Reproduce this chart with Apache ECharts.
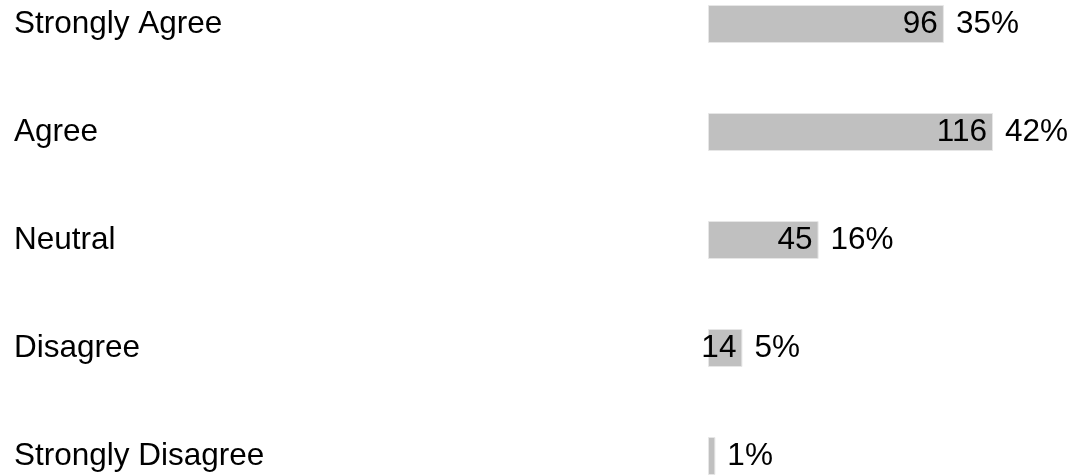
<!DOCTYPE html>
<html>
<head>
<meta charset="utf-8">
<script src="https://cdn.jsdelivr.net/npm/echarts@6/dist/echarts.min.js"></script>
<style>
html,body{margin:0;padding:0;background:#fff;overflow:hidden;width:1073px;height:476px;position:relative;}
#c{position:absolute;left:0;top:-30px;width:1073px;height:540px;}
</style>
</head>
<body>
<div id="c"></div>
<script>
const categories = ['Strongly Agree', 'Agree', 'Neutral', 'Disagree', 'Strongly Disagree'];
const counts = [96, 116, 45, 14, 3];
const total = counts.reduce((a, b) => a + b, 0);
const percents = counts.map(v => Math.round(v / total * 100));

const FONT = '"Liberation Sans", Arial, sans-serif';
const chart = echarts.init(document.getElementById('c'));
chart.setOption({
  animation: false,
  backgroundColor: '#ffffff',
  grid: { left: 708, right: 21, top: 0, bottom: 0, containLabel: false },
  xAxis: { type: 'value', min: 0, max: 140, show: false },
  yAxis: {
    type: 'category', data: categories, inverse: true,
    axisLine: { show: false }, axisTick: { show: false }, splitLine: { show: false },
    axisLabel: { align: 'left', margin: 694, color: '#000', fontSize: 31.5, fontFamily: FONT }
  },
  series: [
    {
      type: 'bar', data: counts, barWidth: 38,
      itemStyle: { color: '#c0c0c0', borderColor: '#e6e6e6', borderWidth: 1 },
      label: {
        show: true, position: 'insideRight', distance: 6,
        color: '#000', fontSize: 31.5, fontFamily: FONT,
        formatter: p => (p.value >= 10 ? String(p.value) : '')
      },
      z: 2
    },
    {
      type: 'bar', data: counts, barWidth: 38, barGap: '-100%',
      itemStyle: { color: 'rgba(0,0,0,0)' },
      label: {
        show: true, position: 'right', distance: 12,
        color: '#000', fontSize: 31.5, fontFamily: FONT,
        formatter: p => percents[p.dataIndex] + '%'
      },
      silent: true, z: 3
    }
  ]
});
</script>
</body>
</html>
